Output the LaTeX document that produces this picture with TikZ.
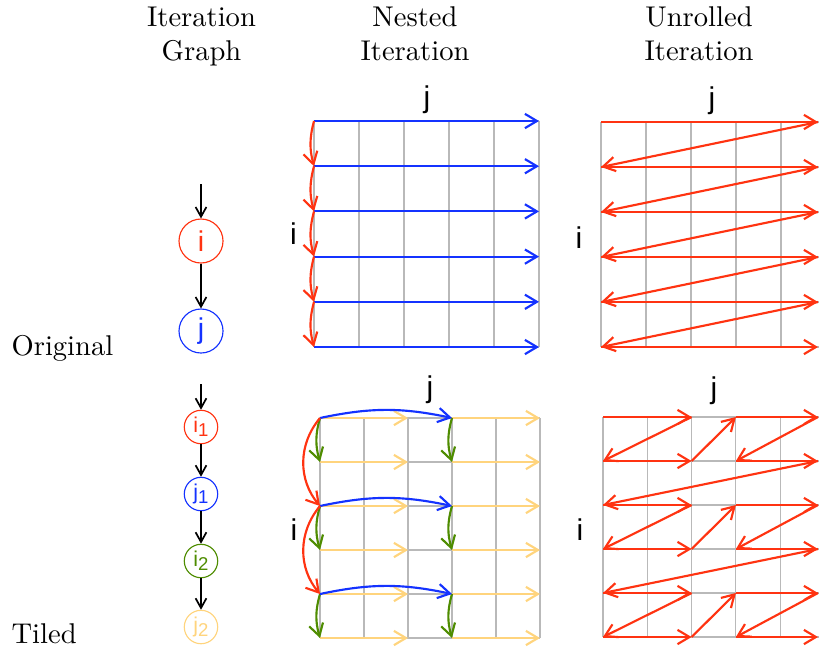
\documentclass[tikz,border=0pt]{standalone}
\usepackage{fontspec}
\newfontfamily\sansf{Liberation Sans}
\usetikzlibrary{arrows.meta}
\definecolor{myred}{RGB}{255,51,17}
\definecolor{myblue}{RGB}{20,50,255}
\definecolor{mygreen}{RGB}{78,140,0}
\definecolor{myyellow}{RGB}{255,212,125}
\definecolor{gridgray}{RGB}{185,185,185}
\newcommand{\lowsub}[1]{\raisebox{-0.35ex}{\fontsize{6.5}{7}\selectfont #1}}
\begin{document}
\begin{tikzpicture}[x=0.35pt,y=-0.35pt,
  gridline/.style={gridgray, line width=0.4pt},
  arr/.style={line width=0.75pt, -{Straight Barb[length=4.2pt,width=5pt]}},
  redarr/.style={arr, myred},
  bluearr/.style={arr, myblue},
  greenarr/.style={arr, mygreen},
  yellowarr/.style={arr, myyellow},
  garr/.style={black, line width=0.6pt, -{Straight Barb[length=3.4pt,width=3.8pt]}},
  gnode/.style={circle, draw, line width=0.4pt, minimum size=15.4pt, inner sep=0pt, font=\sansf\fontsize{10}{11}\selectfont},
  snode/.style={circle, draw, line width=0.4pt, minimum size=11.7pt, inner sep=0pt, font=\sansf\fontsize{7.5}{9}\selectfont},
  hdr/.style={anchor=base, font=\fontsize{10}{12}\selectfont, inner sep=0pt},
  axlabel/.style={font=\sansf\fontsize{10.5}{12}\selectfont, inner sep=0pt}
]
\useasboundingbox (0,0) rectangle (819,646);

% headers
\node[hdr] (h1a) at (201.5,26.5) {Iteration};
\node[hdr] (h1b) at (201.5,60.5) {Graph};
\node[hdr] (h2a) at (415,26.5) {Nested};
\node[hdr] (h2b) at (415,60.5) {Iteration};
\node[hdr] (h3a) at (699,26.5) {Unrolled};
\node[hdr] (h3b) at (699,60.5) {Iteration};
\node[hdr, anchor=base west] (orig) at (11,355) {Original};
\node[hdr, anchor=base west] (tiled) at (11,643.5) {Tiled};

% coordinates
\foreach \r in {0,...,5} {
  \foreach \c in {0,...,5} {
    \coordinate (N-\r-\c) at ({314+45*\c},{121+45.2*\r});
    \coordinate (U-\r-\c) at ({601+45*\c},{122+45*\r});
    \coordinate (T-\r-\c) at ({320+44*\c},{418+44*\r});
    \coordinate (S-\r-\c) at ({603+44.3*\c},{417+44*\r});
  }
  \coordinate (UR-\r) at (818,{122+45*\r});
  \coordinate (UE-\r) at (820,{122+45*\r});
  \coordinate (SR-\r) at (818,{417+44*\r});
  \coordinate (SE-\r) at (820,{417+44*\r});
}

% grids
\foreach \i in {0,...,5} {
  \draw[gridline] (N-0-\i) -- (N-5-\i);
  \draw[gridline] (N-\i-0) -- (N-\i-5);
  \draw[gridline] (T-0-\i) -- (T-5-\i);
  \draw[gridline] (T-\i-0) -- (T-\i-5);
  \draw[gridline] (U-\i-0) -- (UE-\i);
  \draw[gridline] (S-\i-0) -- (SE-\i);
}
\foreach \i in {0,...,4} {
  \draw[gridline] (U-0-\i) -- (U-5-\i);
  \draw[gridline] (S-0-\i) -- (S-5-\i);
}

% axis labels
\node[axlabel] (jn1) at (427,100) {j};
\node[axlabel] (in1) at (293.5,234) {i};
\node[axlabel] (ju1) at (712,101) {j};
\node[axlabel] (iu1) at (579,238) {i};
\node[axlabel] (jn2) at (430,390) {j};
\node[axlabel] (in2) at (294,530) {i};
\node[axlabel] (ju2) at (714,391) {j};
\node[axlabel] (iu2) at (580,530) {i};

% top nested
\foreach \r in {0,...,5} \draw[bluearr] (N-\r-0) -- (N-\r-5);
\foreach \r [evaluate=\r as \nr using int(\r+1)] in {0,...,4}
  \draw[redarr] (N-\r-0) to[bend right=15] (N-\nr-0);

% top unrolled
\foreach \r in {0,...,5} \draw[redarr] (U-\r-0) -- (UR-\r);
\foreach \r [evaluate=\r as \nr using int(\r+1)] in {0,...,4}
  \draw[redarr] (UR-\r) -- (U-\nr-0);

% bottom nested
\foreach \r in {0,...,5} {
  \draw[yellowarr] (T-\r-0) -- (T-\r-2);
  \draw[yellowarr] (T-\r-3) -- (T-\r-5);
}
\foreach \r [evaluate=\r as \nr using int(\r+1)] in {0,2,4} {
  \draw[greenarr] (T-\r-0) to[bend right=16] (T-\nr-0);
  \draw[greenarr] (T-\r-3) to[bend right=16] (T-\nr-3);
  \draw[bluearr] (T-\r-0) to[bend left=12] (T-\r-3);
}
\foreach \r [evaluate=\r as \nr using int(\r+2)] in {0,2}
  \draw[redarr] (T-\r-0) to[bend right=40] (T-\nr-0);

% bottom unrolled
\foreach \r [evaluate=\r as \ra using int(\r+1)] in {0,2,4} {
  \draw[redarr] (S-\r-0) -- (S-\r-2);
  \draw[redarr] (S-\r-2) -- (S-\ra-0);
  \draw[redarr] (S-\ra-0) -- (S-\ra-2);
  \draw[redarr] (S-\ra-2) -- (S-\r-3);
  \draw[redarr] (S-\r-3) -- (SR-\r);
  \draw[redarr] (SR-\r) -- (S-\ra-3);
  \draw[redarr] (S-\ra-3) -- (SR-\ra);
}
\foreach \r [evaluate=\r as \ra using int(\r+1), evaluate=\r as \rb using int(\r+2)] in {0,2}
  \draw[redarr] (SR-\ra) -- (S-\rb-0);

% iteration graph: original
\coordinate (gs1) at (201,184);
\node[gnode, myred] (gi) at (201,241) {i};
\node[gnode, myblue] (gj) at (201,331) {j};
\draw[garr] (gs1) -- (gi);
\draw[garr] (gi) -- (gj);

% iteration graph: tiled
\coordinate (gs2) at (201,384);
\node[snode, myred] (gi1) at (201,427) {i\lowsub{1}};
\node[snode, myblue] (gj1) at (201,494) {j\lowsub{1}};
\node[snode, mygreen] (gi2) at (201,561) {i\lowsub{2}};
\node[snode, myyellow] (gj2) at (201,627) {j\lowsub{2}};
\draw[garr] (gs2) -- (gi1);
\draw[garr] (gi1) -- (gj1);
\draw[garr] (gj1) -- (gi2);
\draw[garr] (gi2) -- (gj2);
\end{tikzpicture}
\end{document}
